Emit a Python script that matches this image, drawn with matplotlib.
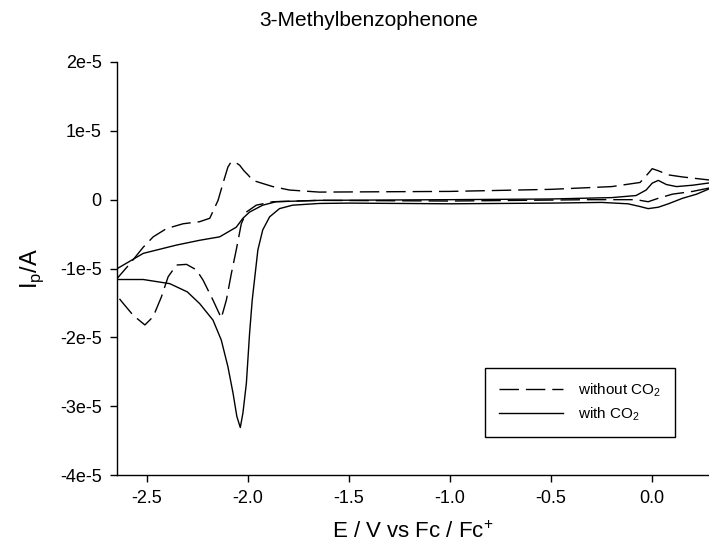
import numpy as np
import matplotlib
matplotlib.use("Agg")
import matplotlib.pyplot as plt

plt.rcParams["font.family"] = ["Liberation Sans", "DejaVu Sans"]
plt.rcParams["mathtext.fontset"] = "custom"
plt.rcParams["mathtext.rm"] = "Liberation Sans"

# cyclic voltammograms, current in units of 1e-5 A
# without CO2 (dashed): cathodic sweep from the right edge, then anodic return
dash_E = [0.30, 0.20, 0.10, 0.03, -0.02, -0.08, -0.30, -1.00, -1.647, -1.877, -1.959,
          -2.008, -2.033, -2.058, -2.082, -2.107, -2.132, -2.173, -2.222, -2.255,
          -2.304, -2.354, -2.395, -2.428, -2.469, -2.510, -2.568, -2.625, -2.70,
          -2.70, -2.646, -2.584, -2.518, -2.469, -2.403, -2.321, -2.239, -2.189,
          -2.148, -2.124, -2.099, -2.085, -2.066, -2.041, -2.020, -2.000, -1.976,
          -1.927, -1.877, -1.795, -1.647, -1.00, -0.50, -0.20, -0.06, -0.02, 0.00,
          0.03, 0.08, 0.15, 0.30]
dash_I = [0.18, 0.12, 0.08, 0.02, -0.03, 0.00, 0.00, -0.02, -0.01, -0.03, -0.08,
          -0.18, -0.35, -0.73, -1.07, -1.46, -1.72, -1.46, -1.17, -1.02,
          -0.94, -0.95, -1.12, -1.41, -1.70, -1.82, -1.68, -1.48, -1.20,
          -1.24, -1.14, -0.93, -0.69, -0.54, -0.42, -0.35, -0.32, -0.27,
          -0.01, 0.235, 0.476, 0.54, 0.55, 0.50, 0.42, 0.36, 0.28,
          0.235, 0.19, 0.14, 0.11, 0.12, 0.15, 0.19, 0.25, 0.38, 0.45,
          0.42, 0.36, 0.33, 0.28]

# with CO2 (solid)
solid_E = [0.30, 0.22, 0.15, 0.08, 0.03, -0.02, -0.06, -0.12, -0.25, -0.50, -1.00,
           -1.50, -1.647, -1.779, -1.844, -1.893, -1.927, -1.951, -1.979, -1.992,
           -2.008, -2.025, -2.038, -2.055, -2.074, -2.099, -2.132, -2.173, -2.239,
           -2.300, -2.387, -2.518, -2.70,
           -2.70, -2.646, -2.518, -2.354, -2.239, -2.140, -2.058, -2.025, -1.992,
           -1.927, -1.861, -1.647, -1.00, -0.50, -0.20, -0.08, -0.03, 0.00, 0.03,
           0.07, 0.12, 0.20, 0.30]
solid_I = [0.18, 0.08, 0.02, -0.06, -0.11, -0.13, -0.10, -0.06, -0.04, -0.05, -0.06,
           -0.05, -0.055, -0.08, -0.13, -0.25, -0.44, -0.73, -1.46, -1.94,
           -2.67, -3.10, -3.31, -3.15, -2.81, -2.43, -2.04, -1.75, -1.51,
           -1.34, -1.22, -1.16, -1.16,
           -1.09, -1.00, -0.78, -0.66, -0.59, -0.54, -0.40, -0.27, -0.18,
           -0.08, -0.03, -0.01, 0.00, 0.01, 0.03, 0.06, 0.14, 0.24, 0.28,
           0.22, 0.19, 0.21, 0.25]

x_ticks = [-2.5, -2.0, -1.5, -1.0, -0.5, 0.0]
x_labels = ["-2.5", "-2.0", "-1.5", "-1.0", "-0.5", "0.0"]
y_ticks = [-4, -3, -2, -1, 0, 1, 2]
y_labels = ["-4e-5", "-3e-5", "-2e-5", "-1e-5", "0", "1e-5", "2e-5"]

fig = plt.figure(figsize=(7.09, 5.56), dpi=100)
ax = fig.add_axes([117 / 709, 81 / 556, 592 / 709, 413 / 556])

ax.plot(dash_E, dash_I, color="black", lw=1.0, dashes=(14, 5), label="without CO$_\\mathregular{2}$")
ax.plot(solid_E, solid_I, color="black", lw=1.0, label="with CO$_\\mathregular{2}$")

ax.set_xlim(-2.648, 0.281)
ax.set_ylim(-4, 2)
ax.set_xticks(x_ticks)
ax.set_xticklabels(x_labels)
ax.set_yticks(y_ticks)
ax.set_yticklabels(y_labels)
ax.tick_params(direction="out", length=5, width=1, labelsize=13, pad=6)
ax.spines["top"].set_visible(False)
ax.spines["right"].set_visible(False)
for s in ("left", "bottom"):
    ax.spines[s].set_linewidth(1)

ax.set_xlabel("E / V vs Fc / Fc$^\\mathregular{+}$", fontsize=16, labelpad=10)
ax.set_ylabel("I$_\\mathregular{p}$/A", fontsize=17, labelpad=10)
fig.text(0.52, 1 - 21 / 556, "3-Methylbenzophenone", ha="center", va="center", fontsize=15)

leg = ax.legend(loc="upper left", bbox_to_anchor=(485 / 709, 1 - 368 / 556),
                bbox_transform=fig.transFigure, borderaxespad=0, fancybox=False,
                framealpha=1, edgecolor="black", fontsize=11, handlelength=4.2,
                handletextpad=1.0, labelspacing=0.4, borderpad=0.9)
leg.get_frame().set_linewidth(1)

fig.savefig("out.png", dpi=100)
